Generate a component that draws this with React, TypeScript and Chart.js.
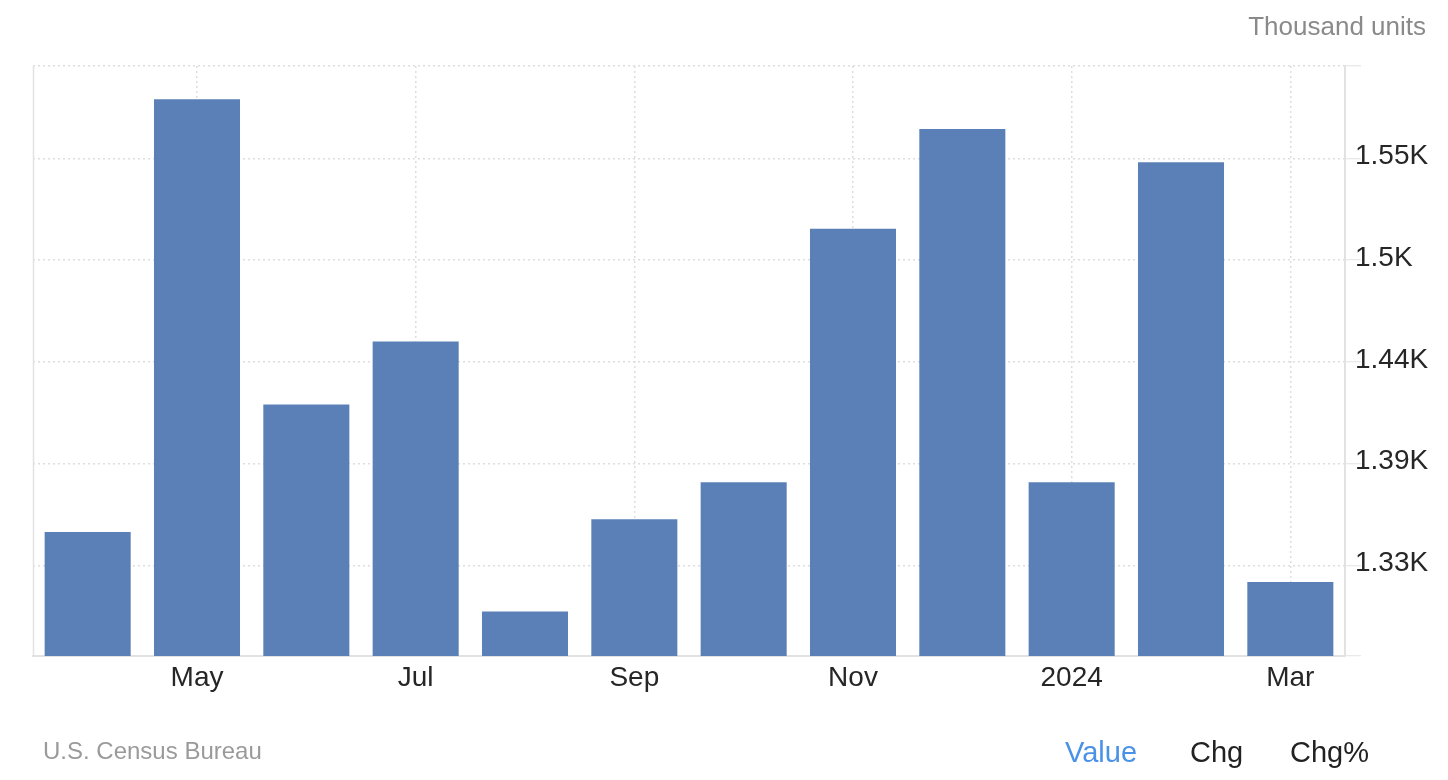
import React, { useEffect, useRef } from "react";
import { Chart, registerables } from "chart.js";

Chart.register(...registerables);

const categories = ["Apr", "May", "Jun", "Jul", "Aug", "Sep", "Oct", "Nov", "Dec", "2024", "Feb", "Mar"];
const housingStarts = [1348, 1582, 1417, 1451, 1305, 1355, 1375, 1512, 1566, 1375, 1548, 1321];
const yTickValues = [1330, 1385, 1440, 1495, 1550];
const yTickLabels = ["1.33K", "1.39K", "1.44K", "1.5K", "1.55K"];
const yMin = 1281;
const yMax = 1600;

const FONT = '"Liberation Sans", Arial, Helvetica, sans-serif';

export default function App() {
  const ref = useRef<HTMLCanvasElement | null>(null);

  useEffect(() => {
    document.body.style.margin = "0";
    const leftLine = {
      id: "leftLine",
      afterDraw(chart: any) {
        const { ctx, chartArea } = chart;
        ctx.save();
        ctx.strokeStyle = "#e2e2e2";
        ctx.lineWidth = 1.5;
        ctx.beginPath();
        ctx.moveTo(chartArea.left + 0.5, chartArea.top);
        ctx.lineTo(chartArea.left + 0.5, chartArea.bottom);
        ctx.stroke();
        ctx.restore();
      },
    };
    const chart = new Chart(ref.current!, {
      type: "bar",
      data: {
        labels: categories,
        datasets: [
          {
            data: housingStarts,
            backgroundColor: "#5a80b7",
            borderWidth: 0,
            categoryPercentage: 1,
            barPercentage: 0.787,
          },
        ],
      },
      options: {
        animation: false,
        responsive: false,
        maintainAspectRatio: false,
        layout: { padding: { left: 33, top: 66, right: 0, bottom: 0 } },
        plugins: { legend: { display: false }, tooltip: { enabled: false } },
        scales: {
          x: {
            offset: true,
            grid: {
              offset: false,
              drawTicks: false,
              color: (c: any) => (c.index % 2 === 1 ? "#dedede" : "rgba(0,0,0,0)"),
              lineWidth: 1.5,
            },
            border: { display: true, color: "#e2e2e2", width: 2, dash: [2, 3] },
            ticks: {
              autoSkip: false,
              maxRotation: 0,
              padding: 5,
              color: "#262626",
              font: { family: FONT, size: 28 },
              callback: (_v: any, i: number) => (i % 2 === 1 ? categories[i] : ""),
            },
            afterFit: (s: any) => {
              s.height = 124;
            },
          },
          y: {
            position: "right",
            min: yMin,
            max: yMax,
            afterBuildTicks: (s: any) => {
              s.ticks = [yMin, ...yTickValues, yMax].map((v) => ({ value: v }));
            },
            grid: {
              color: "#dedede",
              lineWidth: 1.5,
              tickLength: 16,
              tickColor: "#e2e2e2",
              tickWidth: 1,
            },
            border: { display: true, color: "#e2e2e2", width: 2, dash: [2, 3] },
            ticks: {
              padding: -6,
              labelOffset: -2,
              color: "#262626",
              font: { family: FONT, size: 28 },
              callback: (v: any) => {
                const i = yTickValues.indexOf(Number(v));
                return i >= 0 ? yTickLabels[i] : "";
              },
            },
            afterFit: (s: any) => {
              s.width = 103;
            },
          },
        },
      },
      plugins: [leftLine],
    } as any);
    return () => chart.destroy();
  }, []);

  const txt = (style: React.CSSProperties) => ({
    position: "absolute" as const,
    fontFamily: FONT,
    lineHeight: "30px",
    whiteSpace: "nowrap" as const,
    ...style,
  });

  return (
    <div style={{ position: "relative", width: 1448, height: 780, background: "#fff", overflow: "hidden" }}>
      <canvas ref={ref} width={1448} height={780} style={{ position: "absolute", left: 0, top: 0, width: 1448, height: 780 }} />
      <div style={txt({ right: 22, top: 11, fontSize: 26, color: "#8a8a8a" })}>Thousand units</div>
      <div style={txt({ left: 43, top: 736, fontSize: 24, color: "#9a9a9a" })}>U.S. Census Bureau</div>
      <div style={txt({ left: 1065, top: 737, fontSize: 29, color: "#4a92e8" })}>Value</div>
      <div style={txt({ left: 1190, top: 737, fontSize: 29, color: "#222" })}>Chg</div>
      <div style={txt({ left: 1290, top: 737, fontSize: 29, color: "#222" })}>Chg%</div>
    </div>
  );
}
